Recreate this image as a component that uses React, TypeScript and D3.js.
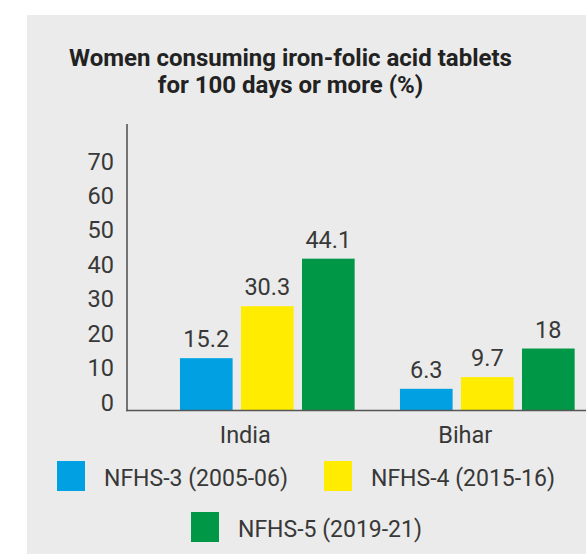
import React from 'react';
import * as d3 from 'd3';

const categories = ['India', 'Bihar'];
const seriesNames = ['NFHS-3 (2005-06)', 'NFHS-4 (2015-16)', 'NFHS-5 (2019-21)'];
const nfhs3 = [15.2, 6.3];
const nfhs4 = [30.3, 9.7];
const nfhs5 = [44.1, 18];
const yTicks = [0, 10, 20, 30, 40, 50, 60, 70];
const titleLines = ['Women consuming iron-folic acid tablets', 'for 100 days or more (%)'];
const colors = ['#00A0E2', '#FFEC00', '#009846'];

const W = 586;
const H = 554;
const FONT = 'Roboto, "Open Sans", sans-serif';
const TEXT = '#383838';

export default function App() {
  const seriesValues = [nfhs3, nfhs4, nfhs5];
  const x0 = d3.scaleBand<string>().domain(categories).range([157.3, 597.3]).padding(0);
  const x1 = d3
    .scaleBand<string>()
    .domain(seriesNames)
    .range([22.65, x0.bandwidth() - 22.65])
    .paddingInner(0.137)
    .paddingOuter(0);
  const y = d3.scaleLinear().domain([0, 70]).range([410.5, 169.5]);
  const axisX = 127;

  const legendItems = [
    { name: seriesNames[0], color: colors[0], x: 57, y: 461 },
    { name: seriesNames[1], color: colors[1], x: 324, y: 461 },
    { name: seriesNames[2], color: colors[2], x: 191, y: 512 },
  ];

  return (
    <svg
      width={W}
      height={H}
      style={{ position: 'absolute', left: 0, top: 0, display: 'block' }}
      fontFamily={FONT}
    >
      <rect x={0} y={0} width={W} height={H} fill="#ffffff" />
      <rect x={27} y={15} width={W - 27} height={H - 15} fill="#EAEBEA" />

      {titleLines.map((t, i) => (
        <text
          key={i}
          x={290.5}
          y={66 + i * 26.5}
          textAnchor="middle"
          fontSize={24}
          fontWeight={700}
          fill="#222222"
        >
          {t}
        </text>
      ))}

      {yTicks.map((t) => (
        <text key={t} x={114} y={y(t)} textAnchor="end" fontSize={23.5} fill={TEXT}>
          {t}
        </text>
      ))}

      {categories.map((c, ci) => (
        <g key={c} transform={`translate(${x0(c)},0)`}>
          {seriesNames.map((s, si) => {
            const v = seriesValues[si][ci];
            const bx = x1(s)!;
            return (
              <g key={s}>
                <rect
                  x={bx}
                  y={y(v)}
                  width={x1.bandwidth()}
                  height={y(0) - y(v)}
                  fill={colors[si]}
                />
                <text
                  x={bx + x1.bandwidth() / 2}
                  y={y(v) - 11}
                  textAnchor="middle"
                  fontSize={23.5}
                  fill={TEXT}
                >
                  {String(v)}
                </text>
              </g>
            );
          })}
          <text
            x={x0.bandwidth() / 2 - 22}
            y={442.5}
            textAnchor="middle"
            fontSize={23.5}
            fill={TEXT}
          >
            {c}
          </text>
        </g>
      ))}

      <line x1={axisX} x2={axisX} y1={124} y2={y(0) + 0.75} stroke="#555555" strokeWidth={1.6} />
      <line x1={axisX - 0.8} x2={W} y1={y(0)} y2={y(0)} stroke="#555555" strokeWidth={1.6} />

      {legendItems.map((d) => (
        <g key={d.name}>
          <rect x={d.x} y={d.y} width={28} height={30} fill={d.color} />
          <text x={d.x + 47} y={d.y + 25} fontSize={23} fill={TEXT}>
            {d.name}
          </text>
        </g>
      ))}
    </svg>
  );
}
